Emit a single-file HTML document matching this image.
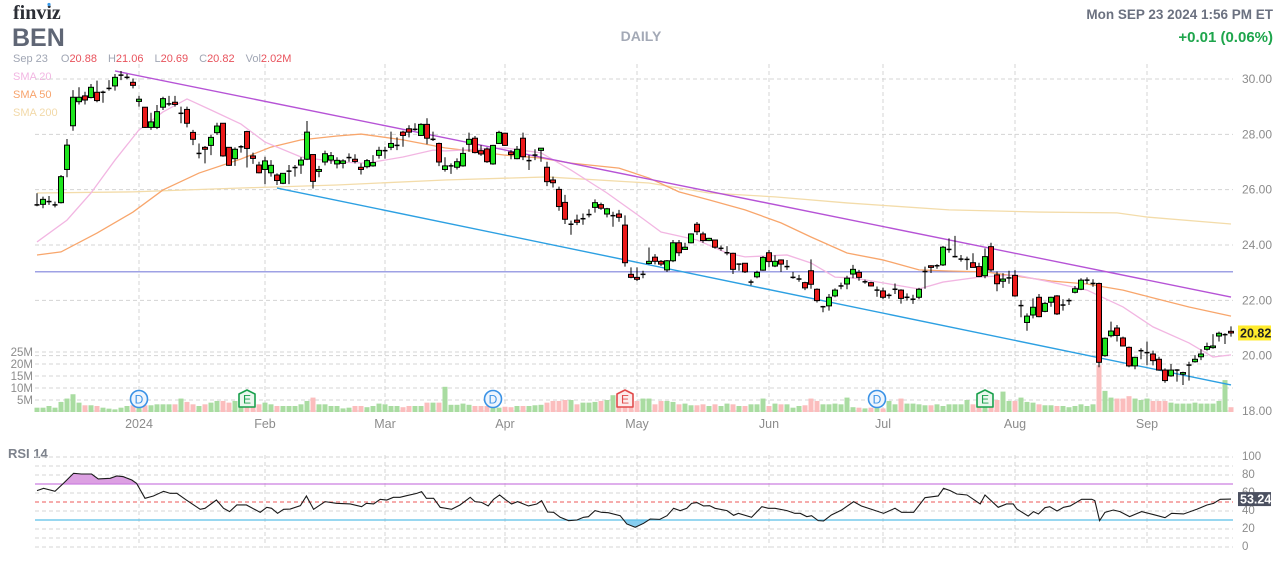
<!DOCTYPE html>
<html><head><meta charset="utf-8"><title>BEN Daily</title>
<style>
html,body{margin:0;padding:0;background:#fff;width:1287px;height:562px;overflow:hidden}
svg{display:block;font-family:"Liberation Sans",Arial,sans-serif}
</style></head>
<body>
<svg id="chart" width="1287" height="562" viewBox="0 0 1287 562" xmlns="http://www.w3.org/2000/svg">
  <g>
    <text x="13" y="19" font-size="20" font-weight="bold" fill="#2c2f36" font-family="Liberation Serif, serif">finviz</text>
    <circle cx="49" cy="4.5" r="1.6" fill="#3d9be9"/>
    <text x="12" y="46" font-size="25" font-weight="bold" fill="#5f6675">BEN</text>
    <text x="641" y="41" font-size="14" font-weight="bold" fill="#a3a9b6" text-anchor="middle">DAILY</text>
    <text x="1273" y="19" font-size="13.5" font-weight="bold" fill="#6b7180" text-anchor="end">Mon SEP 23 2024 1:56 PM ET</text>
    <text x="1273" y="42" font-size="15" font-weight="bold" fill="#1ea54c" text-anchor="end">+0.01 (0.06%)</text>
    <text x="13" y="62" font-size="11" fill="#a0a6b4">Sep 23<tspan dx="13">O</tspan><tspan fill="#e8525c">20.88</tspan><tspan dx="11">H</tspan><tspan fill="#e8525c">21.06</tspan><tspan dx="11">L</tspan><tspan fill="#e8525c">20.69</tspan><tspan dx="11">C</tspan><tspan fill="#e8525c">20.82</tspan><tspan dx="11">Vol</tspan><tspan fill="#e8525c">2.02M</tspan></text>
    <text x="13" y="80" font-size="11" fill="#f2b6e2">SMA 20</text>
    <text x="13" y="98" font-size="11" fill="#f7a36c">SMA 50</text>
    <text x="13" y="116" font-size="11" fill="#f2d9a8">SMA 200</text>
    <text x="8" y="458" font-size="13" font-weight="bold" fill="#7d828c">RSI 14</text>
  </g>
  <g id="grid"></g>
  <g id="vol"></g>
  <g id="lines"></g>
  <g id="candles"></g>
  <g id="events"></g>
  <g id="rsi"></g>
  <g id="axes"></g>
</svg>
<script>
const opens=[25.45,25.47,25.57,25.45,25.53,26.73,28.31,29.18,29.39,29.33,
29.52,29.52,29.66,29.75,30.14,30.06,29.88,29.19,28.98,28.25,
28.25,28.98,29.1,29.16,28.76,28.9,28.07,27.31,27.53,27.6,
28.06,28.4,27.53,27.12,27.55,28.1,27.22,26.89,26.73,26.61,
26.53,26.23,26.67,26.8,26.89,27.1,27.27,26.66,27.0,27.07,
26.93,26.95,27.16,27.1,26.81,26.83,26.86,27.24,27.41,27.53,
27.6,28.08,28.2,28.18,27.96,28.36,27.82,27.67,26.73,26.86,
26.81,26.86,27.64,27.86,27.41,27.47,26.93,27.67,28.04,27.36,
27.12,27.86,27.05,27.25,27.42,26.81,26.35,26.01,25.54,24.75,
24.9,24.95,25.1,25.36,25.46,25.12,25.06,25.12,24.72,22.94,
22.83,22.94,23.33,23.56,23.41,23.1,23.43,24.08,23.84,24.08,
24.75,24.4,24.16,24.18,23.88,23.72,23.7,23.31,23.34,22.66,
22.85,23.09,23.72,23.24,23.46,23.22,22.83,22.77,22.64,23.07,
22.4,21.77,21.8,22.16,22.52,22.59,22.95,23.01,22.67,22.64,
22.37,22.34,22.18,22.4,22.37,22.11,22.04,22.11,23.04,23.25,
23.25,23.28,23.84,23.58,23.49,23.48,23.36,23.22,22.89,23.94,
22.92,22.69,22.81,22.9,21.81,21.2,21.47,22.11,21.6,21.93,
22.16,21.83,21.99,22.29,22.4,22.73,22.61,22.61,20.0,20.72,
21.0,20.64,20.3,19.63,20.18,20.11,20.06,19.87,19.48,19.27,
19.48,19.33,19.66,19.78,19.96,20.23,20.29,20.71,20.74,20.88];
const closes=[25.45,25.65,25.57,25.45,26.47,27.61,29.34,29.34,29.24,29.7,
29.22,29.52,29.66,30.06,30.14,30.06,29.77,29.27,28.25,28.45,
28.82,29.29,29.1,29.08,28.76,28.4,27.82,27.31,27.46,27.89,
28.3,27.22,26.88,27.46,27.55,27.49,27.13,26.61,27.04,26.88,
26.33,26.59,26.67,26.8,27.07,28.08,26.3,26.73,27.3,27.23,
27.06,27.04,27.16,27.02,26.73,27.05,26.98,27.42,27.41,27.67,
27.6,27.96,28.08,28.18,28.36,27.86,27.82,27.0,26.86,26.86,
27.01,27.31,27.82,27.34,27.29,27.01,27.6,28.07,27.6,27.27,
27.46,27.19,27.05,27.25,27.5,26.29,26.25,25.39,24.93,24.75,
24.82,24.95,25.1,25.53,25.33,25.31,25.06,25.0,23.36,22.83,
22.76,22.94,23.41,23.41,23.31,23.43,24.08,23.72,23.92,24.4,
24.48,24.16,24.24,23.92,23.88,23.72,23.12,23.31,23.03,22.66,
23.01,23.55,23.4,23.41,23.31,23.22,22.83,22.77,22.45,22.58,
21.99,21.77,22.11,22.37,22.52,22.8,23.12,22.83,22.67,22.52,
22.37,22.11,22.18,22.4,22.07,22.11,22.04,22.4,23.04,23.19,
23.25,23.92,23.84,23.58,23.49,23.48,23.19,22.86,23.58,23.1,
22.6,22.77,22.81,22.16,21.81,21.43,21.75,21.41,21.89,22.11,
21.51,21.83,21.99,22.42,22.73,22.73,22.61,19.76,20.63,20.89,
20.73,20.35,19.63,19.94,20.18,20.11,19.82,19.48,19.1,19.48,
19.48,19.39,19.66,19.87,20.06,20.33,20.35,20.81,20.78,20.82];
const highs=[25.87,25.75,25.77,25.57,26.53,27.83,29.6,29.7,29.54,29.82,
29.94,29.58,29.96,30.18,30.29,30.18,30.02,29.39,28.98,28.78,
29.06,29.36,29.39,29.39,29.0,29.0,28.16,27.67,27.58,27.98,
28.42,28.4,27.53,27.53,27.61,28.13,27.34,27.01,27.19,27.07,
26.59,26.59,26.89,26.89,27.17,28.48,27.27,26.86,27.41,27.36,
27.17,27.1,27.31,27.28,26.95,27.11,27.25,27.55,27.55,28.1,
27.89,28.13,28.33,28.4,28.4,28.58,28.1,27.7,27.17,26.95,
27.13,27.53,28.06,27.94,27.61,27.53,27.62,28.13,28.06,27.43,
27.58,28.06,27.25,27.46,27.5,27.01,26.47,26.11,25.81,24.88,
25.1,25.14,25.29,25.65,25.53,25.34,25.2,25.27,25.07,23.19,
23.19,23.07,23.91,23.67,23.46,23.46,24.18,24.18,24.08,24.42,
24.83,24.48,24.26,24.2,23.98,23.96,23.72,23.31,23.35,22.75,
23.07,23.6,23.82,23.63,23.48,23.46,23.03,22.92,22.67,23.48,
22.43,21.8,22.23,22.43,22.64,22.89,23.28,23.1,22.75,22.67,
22.5,22.46,22.25,22.61,22.4,22.25,22.2,22.45,23.22,23.27,
23.31,23.97,24.24,24.33,23.64,23.58,23.7,23.36,23.88,24.08,
23.04,22.98,23.07,23.09,22.01,21.53,22.07,22.23,21.95,22.13,
22.19,22.04,22.07,22.52,22.8,22.83,22.76,22.64,20.66,21.23,
21.11,20.69,20.33,19.96,20.27,20.51,20.18,19.96,19.54,19.7,
19.51,19.42,19.78,20.02,20.23,20.47,20.78,20.87,20.81,21.06];
const lows=[25.4,25.33,25.45,25.36,25.5,26.45,28.13,29.08,29.08,29.3,
29.16,29.14,29.58,29.58,29.96,29.99,29.66,29.0,28.23,28.16,
28.19,28.88,29.02,29.0,28.4,28.25,27.61,27.13,26.95,27.25,
27.98,27.19,26.86,26.86,27.34,26.8,26.93,26.59,26.2,26.47,
26.17,26.2,26.2,26.47,26.57,27.07,26.04,26.45,26.88,26.93,
26.77,26.77,27.01,26.95,26.55,26.77,26.83,27.12,27.12,27.43,
27.43,27.55,27.89,28.13,27.94,27.64,27.76,26.85,26.65,26.57,
26.73,26.83,27.37,27.31,27.22,26.97,26.9,27.65,27.58,27.1,
27.1,27.07,26.71,27.07,27.01,26.13,26.08,25.24,24.76,24.37,
24.72,24.73,25.0,25.17,25.27,25.0,24.66,24.84,23.22,22.8,
22.7,22.8,23.3,23.3,23.24,23.03,23.38,23.6,23.82,24.06,
24.36,24.08,24.14,23.87,23.79,23.63,22.95,23.07,22.99,22.54,
22.8,23.07,23.2,23.2,23.03,23.1,22.78,22.67,22.37,22.42,
21.92,21.57,21.63,22.11,22.4,22.4,22.8,22.71,22.6,22.5,
22.13,22.04,22.06,22.23,21.88,21.99,21.87,22.04,22.42,22.99,
23.14,23.24,23.72,23.55,23.4,23.1,23.19,22.84,22.8,23.04,
22.33,22.45,22.6,22.13,21.39,20.9,21.35,21.39,21.57,21.77,
21.47,21.63,21.83,22.25,22.37,22.59,22.49,19.58,19.96,20.66,
20.51,20.33,19.58,19.51,19.87,19.66,19.65,19.46,19.02,19.24,
19.06,18.94,19.1,19.75,19.84,20.18,20.25,20.51,20.42,20.69];
const volumes=[1.8,1.8,2.5,1.8,4.2,5.6,7.4,3.9,2.8,2.8,
2.5,1.8,1.4,1.1,1.8,2.5,2.8,2.8,2.8,2.8,
3.2,3.2,3.2,3.2,5.6,4.2,3.2,2.5,3.2,3.9,
4.6,4.6,3.9,4.6,2.5,6.0,3.2,3.2,3.9,3.2,
2.5,2.5,2.5,2.5,3.2,4.6,6.0,3.2,3.2,2.5,
2.5,1.5,1.8,2.5,2.5,2.0,2.5,3.5,3.2,2.5,
2.5,2.0,2.5,2.5,2.5,3.9,3.9,3.9,10.5,3.0,
3.0,3.5,3.0,2.5,2.5,2.5,2.5,1.8,2.2,2.0,
2.5,2.5,2.5,2.8,3.0,3.9,4.6,4.6,5.0,5.0,
3.2,3.9,3.9,4.2,4.6,5.0,7.0,6.5,5.6,4.2,
4.6,5.6,5.6,3.2,4.6,4.6,4.2,3.2,3.5,2.8,
2.8,3.2,2.5,3.2,2.5,3.5,3.2,2.5,2.5,3.2,
3.2,5.6,2.5,3.5,3.2,3.2,1.8,2.5,2.8,5.6,
4.6,3.2,3.2,3.5,3.2,6.0,2.0,1.8,1.5,1.8,
3.9,1.5,4.6,3.2,5.6,3.5,3.5,3.2,2.8,2.8,
3.2,2.5,3.2,3.2,3.2,5.0,3.2,2.5,3.5,2.8,
5.0,8.5,4.6,4.6,6.0,4.2,3.9,3.2,2.8,2.8,
2.5,2.5,2.0,2.5,3.2,2.5,3.2,19.5,8.8,6.0,
5.6,5.6,6.6,5.6,5.0,5.6,4.6,4.6,4.6,3.9,
3.5,3.5,3.5,3.9,3.5,3.5,3.5,4.6,13.3,2.0];
const sma20Idx=[0,5,9,13,17,21,25,29,34,38,44,50,55,61,66,68,78,84,89,95,101,104,110,115,118,125,129,133,136,141,147,151,157,163,169,175,181,186,192,196,199];
const sma20Val=[24.11,24.9,25.88,27.07,28.16,28.81,29.28,28.88,28.37,27.72,27.18,27.0,26.96,27.18,27.43,27.4,27.51,27.33,26.71,25.88,24.95,24.47,24.18,23.71,23.57,23.64,23.35,22.84,22.81,22.63,22.41,22.66,22.84,22.92,22.66,22.37,21.76,21.04,20.46,19.95,20.03];
const sma50Idx=[0,4,10,16,21,27,34,39,44,50,54,61,68,78,84,89,97,102,107,112,118,124,129,135,141,147,152,158,163,169,175,181,186,192,199];
const sma50Val=[23.64,23.75,24.43,25.19,25.99,26.6,27.11,27.54,27.8,27.94,28.01,27.8,27.51,27.25,27.14,26.96,26.78,26.42,25.92,25.63,25.27,24.8,24.29,23.71,23.46,23.1,23.06,23.03,22.88,22.7,22.59,22.37,22.09,21.76,21.43];
const sma200Idx=[0,16,34,50,68,85,102,112,123,135,152,167,180,185,199];
const sma200Val=[25.88,25.92,26.06,26.17,26.35,26.46,26.24,25.88,25.74,25.52,25.27,25.19,25.16,25.01,24.76];
const rsiIdx=[0,1.1,3,4.4,6.1,7.4,9.1,10.2,12.2,13.3,14.4,15.8,16.6,18,19.4,21.1,22.2,23.3,24.9,27.2,28,29.9,31.1,32.1,33.3,34.9,37.2,38.3,39.1,40.1,41.1,42.2,43.9,44.9,46.1,48,49.9,52.2,54.1,54.9,56.1,57.2,58.3,59.4,60.5,61.6,63.3,64.1,64.9,66.1,67.2,69.1,70.5,72.2,73,74.1,75.2,76.1,77.1,78,79.1,80.1,81.9,83.3,84.1,85.1,86.1,87.2,88.6,90,91.1,91.9,93,94.1,95.2,97.2,98.3,99.7,101.1,102.2,103.8,105,106.1,107.2,108.3,109.1,110,111.1,112.1,113,115,116.1,116.9,119.1,120.8,121.9,123,125,126.3,127.2,128.3,129.1,130.2,131.1,132.4,134.1,136.1,137.4,141.1,143,144.1,146.1,148,150.2,151.1,152.2,153.3,155,157.2,158,160.2,161.6,162.7,163.3,165.2,166.1,166.9,168,168.8,170,171.1,172.2,174.1,175.8,176.3,177.1,178,179.4,180.5,182.1,184.1,186.3,188,189.1,191.1,193.3,195,196.1,197.2,199];
const rsiVal=[62.6,65.2,61.9,70.7,81.9,81.1,81.1,75.6,76.3,78.9,78.1,74.4,70.7,54.1,56.7,61.9,59.6,59.6,52.2,41.9,43.0,52.2,43.0,39.3,46.7,46.7,38.5,44.1,43.0,37.4,41.9,42.2,45.9,56.7,41.9,50.4,48.5,47.8,44.8,48.5,47.8,53.0,52.2,55.2,55.2,57.0,59.6,61.5,54.1,54.1,44.1,41.9,46.7,55.2,50.4,49.6,45.6,53.0,57.8,53.0,47.8,50.4,45.6,47.8,51.5,38.9,38.5,33.0,29.3,30.0,33.0,33.7,40.4,38.5,38.1,34.8,25.6,21.9,26.3,31.1,30.7,34.8,43.0,40.4,43.0,48.5,49.3,45.6,45.9,43.0,40.4,35.2,37.4,33.0,44.8,43.0,43.0,40.4,37.4,37.4,33.7,34.8,29.3,28.9,35.6,41.1,50.4,45.6,37.4,43.0,38.5,38.5,54.8,56.7,65.2,62.6,58.9,57.8,47.8,57.8,44.1,47.8,47.8,42.2,34.4,39.3,36.7,43.7,44.8,40.0,44.1,45.6,53.0,53.0,51.5,29.3,38.5,41.1,39.3,33.7,39.3,35.6,32.6,37.4,36.7,41.9,46.7,48.5,53.0,53.24];
const priceTicks=[18,20,22,24,26,28,30];
const volTicks=[5,10,15,20,25];
const rsiTicks=[0,20,40,60,80,100];
const monthLabels=["2024","Feb","Mar","Apr","May","Jun","Jul","Aug","Sep"];
const monthIdx=[17,38,58,78,100,122,141,163,185];
const eventTypes=["D","E","D","E","D","E"];
const eventIdx=[17,35,76,98,140,158];
const trendUpperIdx=[13,199], trendUpperVal=[30.29,22.12];
const trendLowerIdx=[40,199], trendLowerVal=[26.06,18.94];
const hlineVal=23.03;
const lastPrice=20.82, lastRsi=53.24;

const NS="http://www.w3.org/2000/svg";
const X0=37, DX=6, LEFT=35, RIGHT=1233;
const xS=i=>X0+DX*i;
const yP=p=>79+(30-p)*(332/12);
const yV=v=>412-v*2.4;
const yR=v=>547-v*0.9;
function mk(tag,attrs,parent){const e=document.createElementNS(NS,tag);for(const k in attrs)e.setAttribute(k,attrs[k]);parent.appendChild(e);return e;}
const G=id=>document.getElementById(id);

const grid=G('grid');
priceTicks.forEach(t=>{const l=mk('line',{x1:LEFT,x2:RIGHT,y1:yP(t),y2:yP(t),stroke:'#d4d4d4','stroke-dasharray':'4,3'},grid);

});
volTicks.forEach(t=>{const l=mk('line',{x1:LEFT,x2:RIGHT,y1:yV(t),y2:yV(t),stroke:'#d4d4d4','stroke-dasharray':'4,3'},grid);

});
for(let v=0;v<=100;v+=10){const l=mk('line',{x1:LEFT,x2:RIGHT,y1:yR(v),y2:yR(v),stroke:'#d4d4d4','stroke-dasharray':'4,3'},grid);

}
monthIdx.forEach(i=>{[[64,414],[455,548]].forEach(r=>{const l=mk('line',{x1:xS(i),x2:xS(i),y1:r[0],y2:r[1],stroke:'#d4d4d4','stroke-dasharray':'4,3'},grid);

});});

const vol=G('vol');
volumes.forEach((v,i)=>{const up=closes[i]>=opens[i];
const r=mk('rect',{x:xS(i)-2.5,y:yV(v),width:5,height:412-yV(v),fill:up?'#a9dca1':'#fbbdbd'},vol);

});

const lines=G('lines');
function poly(idx,val,color,w,name){const pts=idx.map((k,j)=>xS(k)+','+yP(val[j])).join(' ');
const p=mk('polyline',{points:pts,fill:'none',stroke:color,'stroke-width':w},lines);

}
const hl=mk('line',{x1:LEFT,x2:RIGHT,y1:yP(hlineVal),y2:yP(hlineVal),stroke:'#7f82dc','stroke-width':1.2},lines);


poly(sma200Idx,sma200Val,'#f3dcaa',1.3,'sma200-line');
poly(sma50Idx,sma50Val,'#f8a66c',1.3,'sma50-line');
poly(sma20Idx,sma20Val,'#f2b6e2',1.3,'sma20-line');
poly(trendUpperIdx,trendUpperVal,'#b653d6',1.4,'upper-trendline');
poly(trendLowerIdx,trendLowerVal,'#2da0e2',1.4,'lower-trendline');

const cg=G('candles');
opens.forEach((o,i)=>{const c=closes[i],x=xS(i);
const w=mk('line',{x1:x,x2:x,y1:yP(highs[i]),y2:yP(lows[i]),stroke:'#000','stroke-width':1},cg);


const top=yP(Math.max(o,c)),bot=yP(Math.min(o,c));
if(bot-top<1.5){const b=mk('line',{x1:x-2.5,x2:x+2.5,y1:(top+bot)/2,y2:(top+bot)/2,stroke:'#000','stroke-width':1.5},cg);

}
else{const b=mk('rect',{x:x-2.5,y:top,width:5,height:bot-top,fill:c>=o?'#1ee51e':'#ea1a1a',stroke:'#000','stroke-width':1},cg);

}
});

const ev=G('events');
eventTypes.forEach((t,k)=>{const x=xS(eventIdx[k]),y=399;
const isRed=(k===3);const col=t==='D'?'#3a92e6':(isRed?'#e14a4a':'#19a04c');
let s;
if(t==='D'){s=mk('circle',{cx:x,cy:y,r:8.5,fill:'#eef5fd',stroke:col,'stroke-width':1.6},ev);}
else{s=mk('path',{d:`M${x-8},${y-5} L${x},${y-9} L${x+8},${y-5} L${x+8},${y+8} L${x-8},${y+8} Z`,fill:isRed?'#fdecec':'#eaf7ee',stroke:col,'stroke-width':1.6,'stroke-linejoin':'round'},ev);}


const tx=mk('text',{x:x,y:y+4.5,'font-size':12,'text-anchor':'middle',fill:col},ev);tx.textContent=t;

});

const rg=G('rsi');
const defs=mk('defs',{},rg);
const c1=mk('clipPath',{id:'above70'},defs);mk('rect',{x:0,y:0,width:1287,height:yR(70)},c1);
const c2=mk('clipPath',{id:'below30'},defs);mk('rect',{x:0,y:yR(30),width:1287,height:100},c2);
const rpts=rsiIdx.map((k,j)=>xS(k)+','+yR(rsiVal[j]));
const fa=mk('polygon',{points:rpts.join(' ')+` ${xS(rsiIdx[rsiIdx.length-1])},${yR(70)} ${xS(0)},${yR(70)}`,fill:'#dca0e2','clip-path':'url(#above70)'},rg);


const fb=mk('polygon',{points:rpts.join(' ')+` ${xS(rsiIdx[rsiIdx.length-1])},${yR(30)} ${xS(0)},${yR(30)}`,fill:'#86cdef','clip-path':'url(#below30)'},rg);


[[70,'#cc7fe0',null,'rsi-70-line'],[50,'#f07b7b','4,3','rsi-50-line'],[30,'#5bbfe8',null,'rsi-30-line']].forEach(d=>{
const l=mk('line',{x1:LEFT,x2:RIGHT,y1:yR(d[0]),y2:yR(d[0]),stroke:d[1],'stroke-width':1.2},rg);if(d[2])l.setAttribute('stroke-dasharray',d[2]);

});
const rl=mk('polyline',{points:rpts.join(' '),fill:'none',stroke:'#1a1a1a','stroke-width':1.1},rg);



const ax=G('axes');
function txt(s,x,y,attrs,name){const t=mk('text',Object.assign({x:x,y:y,'font-size':12,fill:'#8c8c8c'},attrs||{}),ax);t.textContent=s;

return t;}
priceTicks.forEach(t=>txt(t.toFixed(2),1242,yP(t)+4,{},'price-tick-label'));
volTicks.forEach(t=>txt(t+'M',33,yV(t)+4,{'text-anchor':'end','font-size':11.5},'volume-tick-label'));
rsiTicks.forEach(t=>txt(String(t),1242,yR(t)+3,{'font-size':11.5},'rsi-tick-label'));
monthLabels.forEach((m,k)=>txt(m,xS(monthIdx[k]),428,{'text-anchor':'middle','font-size':12.5},'month-label'));
const pb=mk('rect',{x:1238,y:yP(lastPrice)-7.5,width:33,height:15,fill:'#ffeb2d'},ax);


txt(lastPrice.toFixed(2),1240,yP(lastPrice)+4.5,{fill:'#222','font-weight':'bold','font-size':12.5},'last-price-label');
const rb=mk('rect',{x:1238,y:yR(lastRsi)-7,width:33,height:14,fill:'#4b5060'},ax);


txt(lastRsi.toFixed(2),1240,yR(lastRsi)+4.5,{fill:'#fff','font-weight':'bold','font-size':12.5},'last-rsi-label');
</script>
</body></html>
